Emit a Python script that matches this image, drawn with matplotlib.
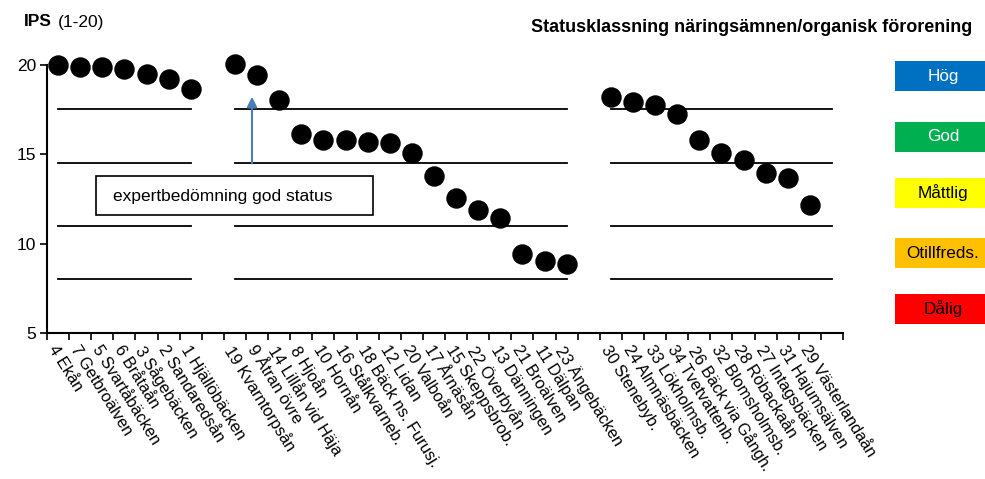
import numpy as np
import matplotlib.pyplot as plt
from matplotlib.patches import Rectangle, FancyArrowPatch

plt.rcParams['font.family'] = ['Liberation Sans', 'DejaVu Sans']

# IPS per site, three groups of watercourses
labels_g1 = ['4 Ekån', '7 Getbroälven', '5 Svartåbäcken', '6 Bråtaån', '3 Sågebäcken',
             '2 Sandaredsån', '1 Hjällöbäcken']
ips_g1 = [20.0, 19.85, 19.85, 19.75, 19.5, 19.2, 18.65]

labels_g2 = ['19 Kvarntorpsån', '9 Åtran övre', '14 Lillån vid Häja', '8 Hjoån', '10 Hornån',
             '16 Stålkvarneb.', '18 Bäck ns. Furusj.', '12 Lidan', '20 Valboån', '17 Årnäsån',
             '15 Skeppsbrob.', '22 Överbyån', '13 Dänningen', '21 Broälven', '11 Dälpan',
             '23 Ängebäcken']
ips_g2 = [20.05, 19.4, 18.0, 16.15, 15.8, 15.8, 15.7, 15.6, 15.05, 13.75,
          12.55, 11.9, 11.45, 9.4, 9.05, 8.85]

labels_g3 = ['30 Stenebyb.', '24 Almnäsbäcken', '33 Lökholmsb.', '34 Tvetvattenb.',
             '26 Bäck via Gångh.', '32 Blomsholmsb.', '28 Röbackaån', '27 Intagsbäcken',
             '31 Hajumsälven', '29 Västerlandaån']
ips_g3 = [18.2, 17.9, 17.72, 17.26, 15.8, 15.05, 14.68, 13.94, 13.66, 12.17]

class_limits = [17.5, 14.5, 11, 8]
class_names = ['Hög', 'God', 'Måttlig', 'Otillfreds.', 'Dålig']
class_colors = ['#0070C0', '#00B050', '#FFFF00', '#FFC000', '#FF0000']
class_text_colors = ['white', 'white', 'black', 'black', 'black']

# one empty category between the groups and one at the end
labels = labels_g1 + [''] + labels_g2 + [''] + labels_g3 + ['']
values = ips_g1 + [np.nan] + ips_g2 + [np.nan] + ips_g3 + [np.nan]
n = len(labels)
x = np.arange(n) + 0.5

n1, n2, n3 = len(labels_g1), len(labels_g2), len(labels_g3)
spans = [(0, n1 - 1), (n1 + 1, n1 + n2), (n1 + n2 + 2, n - 1)]

fig = plt.figure(figsize=(9.85, 4.79), dpi=100)
ax = fig.add_axes([47 / 985, 1 - 333 / 479, (843 - 47) / 985, (333 - 64.7) / 479])

for lim in class_limits:
    for a, b in spans:
        ax.plot([x[a], x[b]], [lim, lim], color='black', lw=1.3, zorder=1)

ax.plot(x, values, 'o', color='black', markersize=13.7, clip_on=False, zorder=3)

ax.set_xlim(0, n)
ax.set_ylim(5, 20)
ax.set_yticks([5, 10, 15, 20])
ax.tick_params(axis='y', labelsize=12.5, length=5, width=1.2, direction='out', pad=3)
ax.set_xticks(np.arange(n + 1), minor=True)
ax.set_xticks(x)
ax.set_xticklabels(labels, fontsize=11.8)
ax.tick_params(axis='x', which='major', length=0, pad=7)
ax.tick_params(axis='x', which='minor', length=5, width=1.2, direction='out')
plt.setp(ax.get_xticklabels(), rotation=-58, ha='left', va='top', rotation_mode='anchor')
for side in ['top', 'right']:
    ax.spines[side].set_visible(False)
for side in ['left', 'bottom']:
    ax.spines[side].set_linewidth(1.5)

# titles
fig.text(24 / 985, 1 - 22 / 479, 'IPS', fontsize=12.5, fontweight='bold', va='center')
fig.text(58 / 985, 1 - 22 / 479, '(1-20)', fontsize=12.5, va='center')
fig.text(972 / 985, 1 - 27 / 479, 'Statusklassning näringsämnen/organisk förorening',
         fontsize=13, fontweight='bold', ha='right', va='center')

# class legend boxes
box_tops = [61, 122, 178, 238, 294]
for top, name, col, tcol in zip(box_tops, class_names, class_colors, class_text_colors):
    fig.patches.append(Rectangle((895 / 985, 1 - (top + 30) / 479), 90 / 985, 30 / 479,
                                 transform=fig.transFigure, facecolor=col, edgecolor='none'))
    fig.text(943 / 985, 1 - (top + 15) / 479, name, fontsize=12.3, color=tcol,
             ha='center', va='center')

# expert judgement note
fig.patches.append(Rectangle((96 / 985, 1 - 215 / 479), (373 - 96) / 985, 39 / 479,
                             transform=fig.transFigure, facecolor='white',
                             edgecolor='black', lw=1.2))
fig.text(113 / 985, 1 - 196 / 479, 'expertbedömning god status', fontsize=12.5, va='center')
fig.patches.append(FancyArrowPatch((252 / 985, 1 - 166 / 479), (252 / 985, 1 - 94 / 479),
                                   transform=fig.transFigure, arrowstyle='-|>',
                                   mutation_scale=15, color='#4A7EBB', lw=1.5))

fig.savefig('out.png', dpi=100)
